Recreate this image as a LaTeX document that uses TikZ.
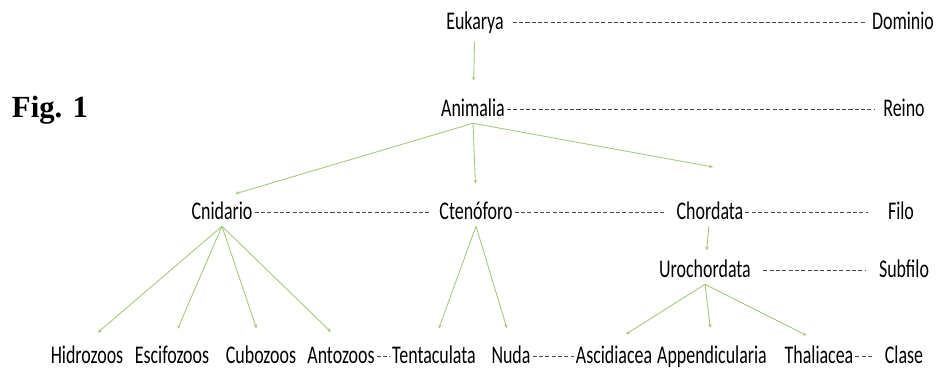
\documentclass[tikz,border=0pt]{standalone}
\usepackage{fontspec}
\setmainfont{Carlito}
\newfontfamily\figfont{Liberation Serif}
\usetikzlibrary{arrows.meta}
\definecolor{rama}{RGB}{165,200,125}
\definecolor{guion}{RGB}{70,70,70}
\newcommand\alto[1]{\scalebox{1}[1.42]{#1}}
\begin{document}
\begin{tikzpicture}[x=0.02cm, y=-0.02cm,
        taxon/.style ={inner sep=1pt, text height=2.3ex, text depth=.6ex, font=\fontsize{10.2}{12}\selectfont},
        rama/.style ={draw=rama, line width=0.5pt, -{Stealth[length=2.2pt,width=2pt]}, shorten >=8pt},
        nivel/.style ={draw=guion, line width=0.35pt, dash pattern=on 2.3pt off 1.3pt}]
    \useasboundingbox (0,0) rectangle (943,368);
    \node[font=\figfont\bfseries\fontsize{17.5}{20}\selectfont] (fig) at (50,110) {Fig. 1};
    % taxones
    \node[taxon] (eukarya) at (475,22) {\alto{Eukarya}};
    \node[taxon] (animalia) at (473,109) {\alto{Animalia}};
    \node[taxon] (cnidario) at (222,212) {\alto{Cnidario}};
    \node[taxon] (ctenoforo) at (476,212) {\alto{Ctenóforo}};
    \node[taxon] (chordata) at (710,212) {\alto{Chordata}};
    \node[taxon] (urochordata) at (705,270) {\alto{Urochordata}};
    \node[taxon] (hidrozoos) at (87,356) {\alto{Hidrozoos}};
    \node[taxon] (escifozoos) at (172,356) {\alto{Escifozoos}};
    \node[taxon] (cubozoos) at (261,356) {\alto{Cubozoos}};
    \node[taxon] (antozoos) at (341,356) {\alto{Antozoos}};
    \node[taxon] (tentaculata) at (434,356) {\alto{Tentaculata}};
    \node[taxon] (nuda) at (511,356) {\alto{Nuda}};
    \node[taxon] (ascidiacea) at (614,356) {\alto{Ascidiacea}};
    \node[taxon] (appendicularia) at (712,356) {\alto{Appendicularia}};
    \node[taxon] (thaliacea) at (819,356) {\alto{Thaliacea}};
    % rangos
    \node[taxon] (dominio) at (903,22) {\alto{Dominio}};
    \node[taxon] (reino) at (904,109) {\alto{Reino}};
    \node[taxon] (filo) at (901,212) {\alto{Filo}};
    \node[taxon] (subfilo) at (904,270) {\alto{Subfilo}};
    \node[taxon] (clase) at (904,356) {\alto{Clase}};
    \coordinate (finchordata) at (713,167);
    % ramas
    \draw[rama, shorten <=3pt] (eukarya) -- (animalia);
    \draw[rama] (animalia.south) -- (cnidario.north);
    \draw[rama] (animalia.south) -- (ctenoforo.north);
    \draw[rama, shorten >=0pt] (animalia.south) -- (finchordata);
    \draw[rama, shorten >=3pt] (chordata) -- (urochordata);
    \draw[rama] (cnidario.south) -- (hidrozoos.north);
    \draw[rama] (cnidario.south) -- (escifozoos.north);
    \draw[rama] (cnidario.south) -- (cubozoos.north);
    \draw[rama] (cnidario.south) -- (antozoos.north);
    \draw[rama] (ctenoforo.south) -- (tentaculata.north);
    \draw[rama] (ctenoforo.south) -- (nuda.north);
    \draw[rama] (urochordata.south) -- (ascidiacea.north);
    \draw[rama] (urochordata.south) -- (appendicularia.north);
    \draw[rama] (urochordata.south) -- (thaliacea.north);
    % lineas de nivel
    \draw[nivel, shorten <=4pt, shorten >=2pt] (eukarya) -- (dominio);
    \draw[nivel, shorten >=4pt] (animalia) -- (reino);
    \draw[nivel, shorten >=4pt] (cnidario) -- (ctenoforo);
    \draw[nivel, shorten >=5pt] (ctenoforo) -- (chordata);
    \draw[nivel, shorten >=10pt] (chordata) -- (filo);
    \draw[nivel, shorten <=6pt, shorten >=6pt] (urochordata) -- (subfilo);
    \draw[nivel] (antozoos) -- (tentaculata);
    \draw[nivel] (nuda) -- (ascidiacea);
    \draw[nivel, shorten >=5pt] (thaliacea) -- (clase);
\end{tikzpicture}
\end{document}
